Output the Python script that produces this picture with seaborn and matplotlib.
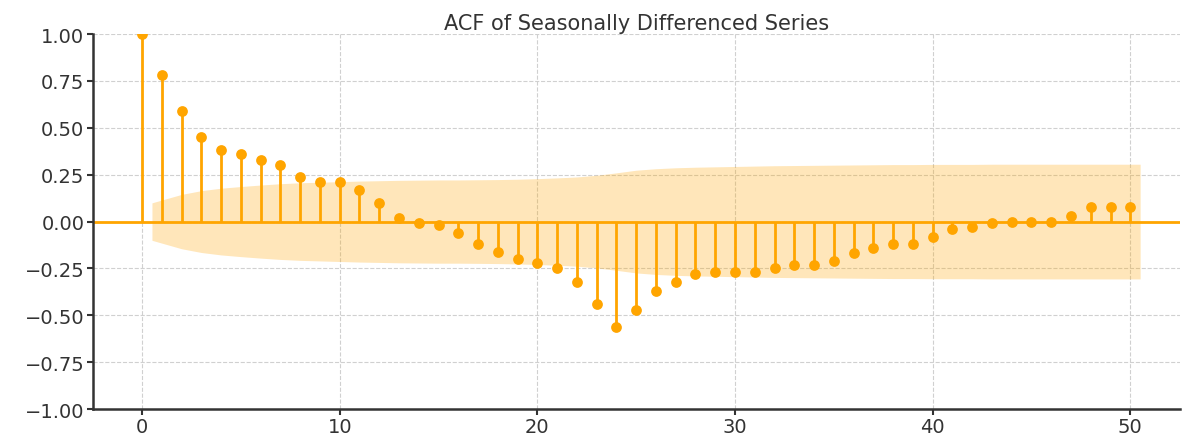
import numpy as np
import pandas as pd
import matplotlib
matplotlib.use("Agg")
import matplotlib.pyplot as plt
import seaborn as sns

# ACF values for lags 0..50
lags = list(range(51))
acf_values = [1.00, 0.78, 0.59, 0.45, 0.38, 0.36, 0.33, 0.30, 0.24, 0.21,
              0.21, 0.17, 0.10, 0.02, -0.01, -0.02, -0.06, -0.12, -0.16, -0.20,
              -0.22, -0.25, -0.32, -0.44, -0.56, -0.47, -0.37, -0.32, -0.28, -0.27,
              -0.27, -0.27, -0.25, -0.23, -0.23, -0.21, -0.17, -0.14, -0.12, -0.12,
              -0.08, -0.04, -0.03, -0.01, 0.00, 0.00, 0.00, 0.03, 0.08, 0.08,
              0.08]

# half width of the confidence band for lags 1..50
band_lags = list(range(1, 51))
band_width = [0.100, 0.145, 0.165, 0.178, 0.187, 0.195, 0.202, 0.207, 0.210, 0.213,
              0.216, 0.218, 0.220, 0.221, 0.222, 0.222, 0.223, 0.224, 0.226, 0.229,
              0.233, 0.238, 0.247, 0.260, 0.274, 0.282, 0.287, 0.290, 0.292, 0.294,
              0.296, 0.298, 0.299, 0.300, 0.301, 0.302, 0.303, 0.304, 0.304, 0.305,
              0.305, 0.305, 0.306, 0.306, 0.306, 0.306, 0.306, 0.306, 0.306, 0.306]

orange = "#FFA500"

sns.set_style("ticks", {"axes.grid": True, "grid.linestyle": "--",
                        "grid.color": "#cccccc", "axes.edgecolor": "#333333"})
plt.rcParams['font.family'] = ['DejaVu Sans']

df = pd.DataFrame({"lag": lags, "acf": acf_values})

fig = plt.figure(figsize=(11.88, 4.39), dpi=100)
ax = fig.add_axes([0.078, 0.066, 0.915, 0.854])

# band edges stretched half a lag outward, like statsmodels does
bx = np.array(band_lags, dtype=float)
bx[0] -= 0.5
bx[-1] += 0.5
bw = np.array(band_width)
ax.fill_between(bx, -bw, bw, color=orange, alpha=0.27, linewidth=0, zorder=1)

ax.axhline(0, color=orange, linewidth=2, zorder=2)
ax.vlines(df["lag"], 0, df["acf"], color=orange, linewidth=2, zorder=3)
sns.scatterplot(data=df, x="lag", y="acf", color=orange, s=60,
                edgecolor=orange, linewidth=0, ax=ax, zorder=4)

ax.set_ylim(-1, 1)
ax.set_xlim(-2.5, 52.5)
ax.set_yticks(np.arange(-1, 1.01, 0.25))
ax.set_xticks([0, 10, 20, 30, 40, 50])
ax.set_xlabel("")
ax.set_ylabel("")
ax.grid(True, linestyle="--", color="#d0d0d0", linewidth=0.8)
ax.tick_params(labelsize=14, width=1.5, length=4, pad=2, colors="#333333")
for s in ["left", "bottom"]:
    ax.spines[s].set_linewidth(1.8)
sns.despine(ax=ax)
ax.set_title("ACF of Seasonally Differenced Series", fontsize=15, color="#333333", pad=4)

fig.savefig("out.png", dpi=100)
